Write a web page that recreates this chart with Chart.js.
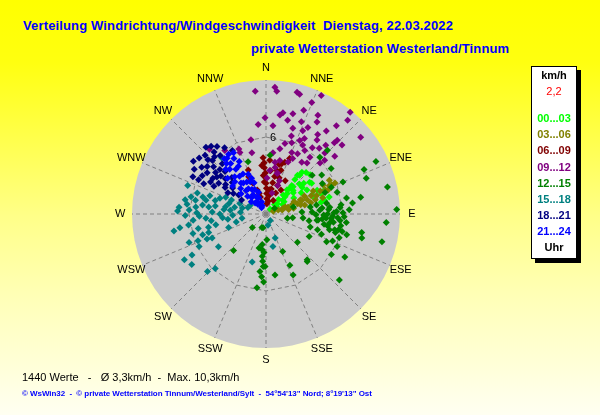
<!DOCTYPE html>
<html lang="de">
<head>
  <meta charset="UTF-8" />
  <title>Verteilung Windrichtung/Windgeschwindigkeit</title>
  <style>
    * {
      margin: 0;
      padding: 0;
      box-sizing: border-box;
    }

    html, body {
      width: 600px;
      height: 415px;
      overflow: hidden;
    }

    body {
      position: relative;
      font-family: Arial, "Liberation Sans", sans-serif;
      background: linear-gradient(to bottom, #ffff00 0%, #ffff10 15%, #ffff88 52%, #ffffb8 72%, #ffffd8 88%, #fffff2 100%);
    }

    #windChart {
      position: absolute;
      left: 0;
      top: 0;
    }

    /* all text lines: line-height 1 so that top = baseline - 0.85em */
    .txt {
      position: absolute;
      white-space: pre;
      line-height: 1;
    }

    .title {
      font-size: 13px;
      font-weight: bold;
      color: #0000ff;
      letter-spacing: 0.14px;
    }

    .stats {
      font-size: 11px;
      color: #000;
    }

    .copy {
      font-size: 8px;
      font-weight: bold;
      color: #0000ff;
      letter-spacing: -0.06px;
    }

    /* Legend box */
    #legend {
      position: absolute;
      left: 531px;
      top: 66px;
      width: 46px;
      height: 193px;
      background: #fff;
      border: 1px solid #000;
      box-shadow: 4px 4px 0 #000;
    }

    #legend .txt {
      left: 0;
      width: 44px;
      text-align: center;
      font-size: 11px;
      font-weight: bold;
    }
  </style>
</head>
<body>
  <div class="txt title" style="left:23px; top:19px;">Verteilung Windrichtung/Windgeschwindigkeit  Dienstag, 22.03.2022</div>
  <div class="txt title" style="left:251px; top:42px;">private Wetterstation Westerland/Tinnum</div>

  <canvas id="windChart" width="600" height="415"></canvas>

  <div id="legend"></div>

  <div class="txt stats" style="left:22px; top:371.5px;">1440 Werte   -   Ø 3,3km/h  -  Max. 10,3km/h</div>
  <div class="txt copy" style="left:22px; top:390px;">© WsWin32  -  © private Wetterstation Tinnum/Westerland/Sylt  -  54°54'13" Nord; 8°19'13" Ost</div>

  <script src="https://cdn.jsdelivr.net/npm/chart.js"></script>
  <script>
    // ================================
    // Data: [direction in degrees, speed in km/h]
    // ================================
    const directions = ['N', 'NNE', 'NE', 'ENE', 'E', 'ESE', 'SE', 'SSE', 'S', 'SSW', 'SW', 'WSW', 'W', 'WNW', 'NW', 'NNW'];
    const periods = ['00...03', '03...06', '06...09', '09...12', '12...15', '15...18', '18...21', '21...24'];
    const periodColors = ['#00ff00', '#808000', '#800000', '#800080', '#008000', '#008080', '#000080', '#0000ff'];
    const scaleMax = 10.45;   // km/h at the rim of the disc
    const ringValue = 6;      // the one dashed ring
    const labelRadius = 11.37;
    const unitLabel = 'km/h';
    const currentValue = '2,2';

    const h00_03 = [
      [41, 0.5], [42, 1.0], [41, 1.5], [42, 2.0], [41, 2.5], [42, 3.0], [40, 3.5], [41, 4.0], [40.6, 4.3],
      [48, 1.2], [48, 2.0], [49, 2.8], [48, 3.5], [48.4, 4.6], [44, 4.5], [39, 3.9], [42.7, 2.7],
      [52, 2.7], [50.5, 1.7], [57.5, 1.0], [53.9, 3.5], [54, 4.2], [56, 4.3], [50.8, 3.8], [59.7, 3.7],
      [60, 1.5], [60, 2.5], [59, 3.2], [67.5, 3.9], [72, 4.0], [76.7, 4.7], [75, 5.1], [67.9, 4.9],
      [76, 1.9], [56, 1.7], [78, 4.4], [45, 3.0], [46, 2.3], [65, 4.4], [70, 4.6]
    ];
    const h03_06 = [
      [70, 0.6], [72, 1.0], [71, 1.4], [73, 1.8], [70, 2.2], [72, 2.6], [69, 3.0], [71, 3.4], [68, 3.8],
      [70, 4.2], [67, 4.6], [68, 5.0], [66, 5.4], [66, 5.6], [65.8, 5.9], [62, 5.6], [68.8, 5.2],
      [76, 1.3], [78, 2.2], [77, 3.1], [75, 2.8], [74, 4.0], [76, 3.6], [74, 4.6], [67.6, 2.9],
      [70, 1.6], [65, 3.3], [64, 4.1], [66, 2.4], [79, 1.8], [63, 5.0]
    ];
    const h06_09 = [
      [357, 4.4], [358, 4.0], [358, 3.6], [359, 3.2], [0, 2.8], [0, 2.4], [1, 2.0], [2, 1.6], [3, 1.2],
      [5, 0.8], [355, 3.8], [356, 3.0], [357, 2.5], [14, 3.5], [13, 3.0], [12, 2.5], [12, 2.0], [11, 1.5],
      [10, 1.0], [23, 4.7], [20, 4.3], [17.4, 4.1], [19, 3.6], [20, 3.0], [22, 2.4], [25, 1.8], [28, 1.2],
      [338, 3.7], [337, 2.6], [340, 2.0], [342, 1.4], [335, 3.2], [30, 3.0], [32, 2.2], [8, 1.9],
      [6, 3.4], [15, 4.0], [4, 4.2], [342, 1.7]
    ];
    const h09_12 = [
      [4, 9.9], [5, 9.6], [14.3, 9.8], [15.7, 9.7], [22.3, 9.4], [25, 10.2], [39.6, 10.3], [41, 9.7],
      [359.4, 7.5], [9.5, 8.0], [8, 7.8], [15, 8.1], [4.5, 6.9], [13, 7.5], [21, 7.7], [27.7, 8.7],
      [29, 8.2], [25.8, 7.5], [23.8, 7.1], [17.4, 7.0], [24.7, 6.3], [27, 6.6], [36, 8.0], [38.6, 8.8],
      [51, 9.5], [44, 8.0], [47.8, 8.0], [43.8, 7.7], [39, 6.6], [34.6, 7.0], [35, 6.3], [28, 6.1],
      [19.9, 5.9], [15, 5.7], [12, 5.2], [22.7, 5.2], [27.7, 5.3], [31.4, 5.8], [37.7, 5.6], [44, 6.6],
      [47.5, 6.2], [46.6, 5.8], [38.8, 5.1], [34.7, 4.9], [25.7, 4.8], [23, 4.4], [14.5, 4.3], [11, 3.7],
      [5, 3.4], [15, 3.3], [1.6, 2.8], [22.5, 2.4], [16, 1.7], [355, 9.6], [355, 7.0], [348.5, 5.9],
      [337.4, 5.5], [318.8, 6.7], [327, 5.9], [347, 4.9], [337, 5.2], [6.5, 4.8], [9.8, 4.1], [16, 3.3],
      [22, 2.8], [33, 7.4], [41, 7.1], [50, 7.0], [18, 6.4], [20, 8.6]
    ];
    const h12_15 = [
      [56, 0.8], [101, 1.7], [98, 2.1], [96, 2.9], [87.6, 3.6], [96.6, 4.1], [94, 4.7], [84, 4.4],
      [84, 5.0], [85, 5.8], [95, 5.8], [103, 5.5], [104, 5.1], [107, 4.2], [106.5, 3.6], [117.6, 3.8],
      [114.7, 5.2], [103, 6.1], [104.5, 6.5], [101, 7.6], [104, 7.7], [94, 9.4], [103.5, 9.3], [118.6, 7.0],
      [121.8, 6.0], [114.6, 6.1], [138, 4.8], [139, 4.9], [132, 3.3], [156, 3.2], [155, 4.4], [156, 5.2],
      [171.6, 4.8], [181, 4.1], [184, 3.7], [184, 4.9], [132, 7.7], [178, 2.0], [187, 2.4], [197, 1.1],
      [225, 1.5], [192, 1.1], [221.7, 3.8], [191.6, 2.7], [186, 2.8], [185, 3.3], [183, 4.1], [187, 5.8],
      [64.5, 9.5], [65.6, 8.4], [70.4, 8.3], [77.5, 9.7], [88, 10.2], [67.4, 6.5], [55, 6.2], [73, 5.8],
      [80, 7.5], [82.8, 6.8], [78.8, 6.4], [44, 6.9], [43.5, 6.1], [50, 4.7], [61.5, 5.0], [70, 4.9],
      [80, 4.8], [80, 4.0], [81, 3.5], [87, 2.8], [75.5, 2.2], [4, 4.6], [55, 5.3], [67.8, 5.5], [341, 4.3],
      [95, 4.4], [92, 5.2], [88, 5.5], [98, 5.0], [90, 4.8], [100, 4.6], [86, 4.9], [93, 5.6], [97, 5.3],
      [102, 5.8], [89, 6.0], [91, 3.9], [99, 3.4], [110, 4.6], [112, 5.6], [108, 6.0],
      [83, 5.9], [86, 4.2], [91, 4.5], [94, 5.1], [96, 6.3], [99, 5.9], [101, 4.9], [105, 5.6], [89, 5.3],
      [92, 6.1], [97, 4.0], [87, 6.5], [183, 3.0], [186, 4.5], [182, 5.3]
    ];
    const h15_18 = [
      [272, 6.9], [273, 6.0], [259.6, 7.3], [265, 5.7], [258, 5.4], [266, 4.7], [272, 4.2], [258, 4.0],
      [252, 4.7], [265, 3.4], [250, 3.1], [235.5, 4.5], [249.6, 6.4], [241, 6.6], [240.7, 7.3], [235.8, 7.0],
      [223, 5.8], [225.5, 6.4], [276, 2.8], [260, 1.9], [284, 1.9], [196, 3.9], [248.6, 5.7], [251.8, 5.2],
      [246, 4.6], [290, 6.5], [287, 5.6], [285, 5.1], [285, 4.1], [292.5, 3.4], [292, 2.9], [277, 4.5],
      [275.6, 5.5], [321.7, 5.6], [146, 0.6], [170, 0.9], [159, 2.0], [168, 2.6], [299, 1.4], [274, 2.0],
      [280, 6.4], [274.5, 6.8], [281, 5.6], [270, 3.6], [262, 3.0], [255, 2.4], [280, 3.2], [288, 4.6],
      [268, 5.2], [278, 5.0], [283, 4.8], [279, 4.0], [276, 3.3], [282, 2.5], [289, 3.8], [286, 3.0],
      [271, 5.4], [277, 6.2], [283, 6.0], [263, 4.3], [268, 2.6], [292, 2.2], [290, 1.5], [269, 6.3],
      [262, 6.1], [255, 5.9], [247, 5.0], [244, 5.8], [257, 4.6], [261, 6.8]
    ];
    const h18_21 = [
      [314, 6.6], [306, 6.2], [315, 5.9], [309.5, 5.1], [297, 6.4], [319, 5.2], [328, 6.1], [332, 5.6],
      [303, 4.4], [302, 3.0], [303, 3.8], [300, 2.2], [318, 7.0], [310, 6.8], [312, 5.5], [305, 5.6],
      [300, 5.0], [298, 4.6], [307, 4.8], [311, 4.2], [316, 4.6], [320, 6.3], [324, 6.5], [313, 3.6],
      [308, 3.3], [305, 2.6], [317, 3.9], [322, 5.8], [301, 5.8], [296, 5.4], [306, 3.9],
      [299, 3.4], [304, 5.0], [309, 5.9], [314, 5.0], [318, 6.0], [321, 6.8], [297, 5.9], [302, 6.6],
      [306, 7.0], [310, 4.6], [313, 6.2]
    ];
    const h21_24 = [
      [325, 0.6], [325, 1.2], [326, 1.8], [325, 2.4], [324, 3.0], [325, 3.6], [326, 4.2], [325, 4.8], [325, 5.3],
      [330, 0.8], [331, 1.5], [330, 2.2], [329, 2.9], [330, 3.6], [330, 4.3], [330, 5.0], [332, 5.4],
      [320, 1.0], [319, 1.7], [320, 2.4], [321, 3.1], [320, 3.8], [321, 4.5], [322, 5.0],
      [335, 0.7], [336, 1.4], [335, 2.1], [334, 2.8], [336, 3.4],
      [315, 1.2], [314, 2.0], [315, 2.8], [316, 3.5], [313, 4.1],
      [340, 1.0], [341, 1.8], [339, 2.6], [310, 1.5], [309, 2.5], [310, 3.4],
      [328, 5.5], [323, 5.4], [318, 4.7], [333, 4.6], [338, 3.0]
    ];
    const series = [h00_03, h03_06, h06_09, h09_12, h12_15, h15_18, h18_21, h21_24];

    // direction (0 = N, clockwise) + speed -> x/y in km/h
    const toXY = ([dir, v]) => {
      const a = dir * Math.PI / 180;
      return { x: v * Math.sin(a), y: v * Math.cos(a) };
    };

    // ================================
    // Legend box (html)
    // ================================
    const legend = document.getElementById('legend');
    const addLine = (text, top, color, weight) => {
      const el = document.createElement('div');
      el.className = 'txt';
      el.textContent = text;
      el.style.top = top + 'px';
      el.style.color = color;
      if (weight) el.style.fontWeight = weight;
      legend.appendChild(el);
    };
    addLine(unitLabel, 3, '#000');
    addLine(currentValue, 19.4, '#ff0000', 'normal');
    periods.forEach((p, i) => addLine(p, 46.4 + i * 16.04, periodColors[i]));
    addLine('Uhr', 174.7, '#000');

    // ================================
    // Polar grid drawn from the x/y scales
    // ================================
    const polarGrid = {
      id: 'polarGrid',
      beforeDatasetsDraw(chart) {
        const { ctx, scales: { x, y } } = chart;
        const pos = (dir, v) => {
          const p = toXY([dir, v]);
          return [x.getPixelForValue(p.x), y.getPixelForValue(p.y)];
        };
        const [cx, cy] = pos(0, 0);
        const rim = x.getPixelForValue(scaleMax) - cx;

        ctx.save();
        ctx.fillStyle = '#cccccc';
        ctx.beginPath();
        ctx.arc(cx, cy, rim, 0, Math.PI * 2);
        ctx.fill();

        ctx.strokeStyle = '#808080';
        ctx.lineWidth = 1;
        ctx.setLineDash([4, 3]);
        directions.forEach((d, i) => {
          const [ex, ey] = pos(i * 22.5, scaleMax);
          ctx.beginPath();
          ctx.moveTo(cx, cy);
          ctx.lineTo(ex, ey);
          ctx.stroke();
        });
        ctx.beginPath();
        directions.forEach((d, i) => {
          const [rx, ry] = pos(i * 22.5, ringValue);
          if (i === 0) ctx.moveTo(rx, ry); else ctx.lineTo(rx, ry);
        });
        ctx.closePath();
        ctx.stroke();
        ctx.setLineDash([]);

        ctx.fillStyle = '#000';
        ctx.font = '11px Arial, "Liberation Sans", sans-serif';
        ctx.textAlign = 'center';
        ctx.textBaseline = 'middle';
        directions.forEach((d, i) => {
          const [lx, ly] = pos(i * 22.5, labelRadius);
          ctx.fillText(d, lx, ly);
        });
        const [tx, ty] = pos(0, ringValue);
        ctx.textAlign = 'left';
        ctx.fillText(String(ringValue), tx + 4, ty + 1);
        ctx.restore();
      }
    };

    // ================================
    // Scatter chart
    // ================================
    const ctx = document.getElementById('windChart').getContext('2d');
    const windChart = new Chart(ctx, {
      type: 'scatter',
      data: {
        datasets: periods.map((p, i) => ({
          label: p,
          data: series[i].map(toXY),
          backgroundColor: periodColors[i],
          borderColor: periodColors[i],
          borderWidth: 0,
          pointStyle: 'rectRot',
          pointRadius: 3.5,
          pointHoverRadius: 3.5,
          clip: false,
          order: periods.length - i
        }))
      },
      options: {
        responsive: false,
        animation: false,
        events: [],
        layout: {
          padding: { left: 132, right: 200, top: 80, bottom: 67 }
        },
        scales: {
          x: { type: 'linear', min: -scaleMax, max: scaleMax, display: false },
          y: { type: 'linear', min: -scaleMax, max: scaleMax, display: false }
        },
        plugins: {
          legend: { display: false },
          tooltip: { enabled: false }
        }
      },
      plugins: [polarGrid]
    });
  </script>
</body>
</html>
